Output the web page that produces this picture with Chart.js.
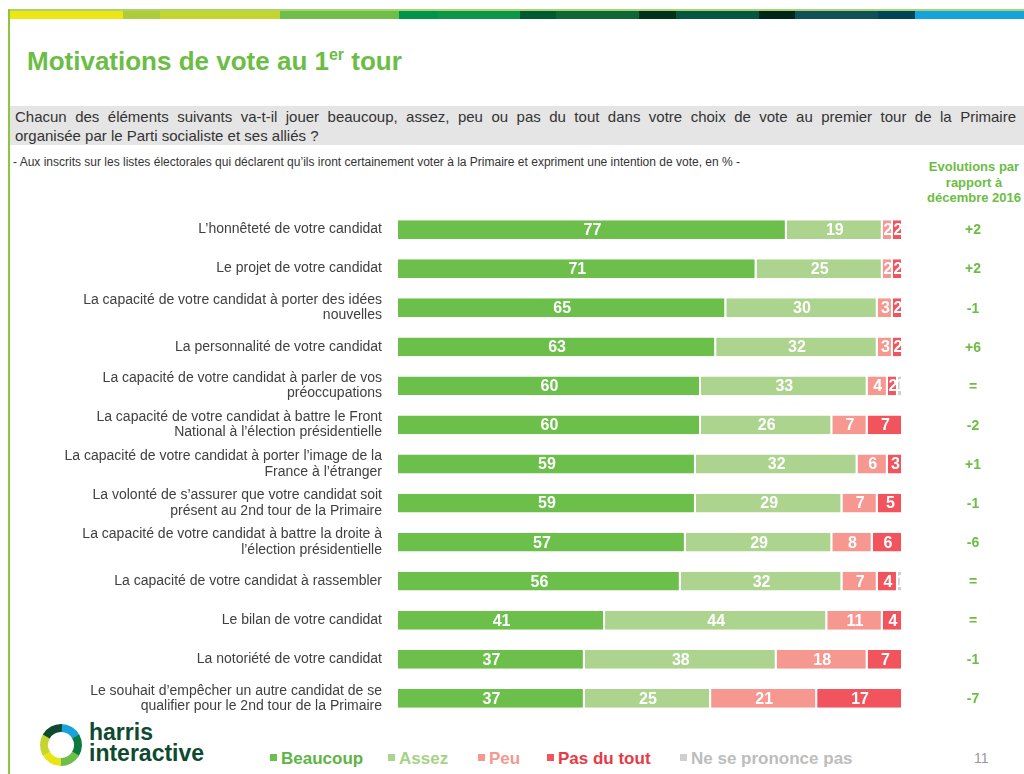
<!DOCTYPE html>
<html>
<head>
<meta charset="utf-8">
<script src="https://cdn.jsdelivr.net/npm/chart.js@4"></script>
<style>
  body { margin: 0; width: 1024px; height: 774px; position: relative; overflow: hidden; background: #fff; font-family: "Liberation Sans", Arial, sans-serif; }
  .band { position: absolute; top: 11px; height: 8px; }
  #topline { position: absolute; left: 8px; right: 0; top: 9px; height: 2px; background: #a8d46f; }
  #leftline { position: absolute; left: 8px; top: 9px; width: 2px; bottom: 0; background: #8cc63f; }
  h1 { position: absolute; left: 27px; top: 46px; margin: 0; font-size: 26px; font-weight: bold; color: #6cbd45; }
  h1 sup { font-size: 16px; vertical-align: 10px; line-height: 0; }
  #question { position: absolute; left: 10px; right: 0; top: 106px; height: 39px; background: #e5e5e5; color: #333; font-size: 15px; line-height: 19px; padding: 1px 8px 0 5px; box-sizing: border-box; }
  #question .l1 { text-align: justify; text-align-last: justify; }
  #base { position: absolute; left: 13px; top: 155px; font-size: 12px; color: #333; }
  #evo { position: absolute; left: 924px; width: 100px; top: 159px; font-size: 13px; line-height: 15.5px; font-weight: bold; color: #6cbd45; text-align: center; }
  #wrap { position: absolute; left: 0; top: 210px; width: 1024px; height: 508px; }
  #legend { position: absolute; top: 749px; left: 268px; font-size: 17px; font-weight: bold; white-space: nowrap; }
  #legend span { position: absolute; top: 0; }
  #legend i { display: inline-block; width: 7px; height: 7px; margin-right: 4px; vertical-align: 3px; }
  #page { position: absolute; left: 974px; top: 750px; font-size: 14px; color: #999; }
  #logo { position: absolute; left: 38px; top: 722px; }
  #logotext { position: absolute; left: 89px; top: 722px; font-size: 23px; line-height: 21px; font-weight: bold; color: #0d4a2f; }
</style>
</head>
<body>
<div id="topline"></div>
<div id="leftline"></div>
<div id="bands"></div>
<h1>Motivations de vote au 1<sup>er</sup> tour</h1>
<div id="question"><div class="l1">Chacun des éléments suivants va-t-il jouer beaucoup, assez, peu ou pas du tout dans votre choix de vote au premier tour de la Primaire</div><div>organisée par le Parti socialiste et ses alliés ?</div></div>
<div id="base">- Aux inscrits sur les listes électorales qui déclarent qu’ils iront certainement voter à la Primaire et expriment une intention de vote, en % -</div>
<div id="evo">Evolutions par<br>rapport à<br>décembre 2016</div>
<div id="wrap"><canvas id="myChart"></canvas></div>
<canvas id="logo" width="46" height="46"></canvas>
<div id="logotext">harris<br>interactive</div>
<div id="legend"></div>
<div id="page">11</div>
<script>
const categories = [
  "L’honnêteté de votre candidat",
  "Le projet de votre candidat",
  ["La capacité de votre candidat à porter des idées", "nouvelles"],
  "La personnalité de votre candidat",
  ["La capacité de votre candidat à parler de vos", "préoccupations"],
  ["La capacité de votre candidat à battre le Front", "National à l’élection présidentielle"],
  ["La capacité de votre candidat à porter l’image de la", "France à l’étranger"],
  ["La volonté de s’assurer que votre candidat soit", "présent au 2nd tour de la Primaire"],
  ["La capacité de votre candidat à battre la droite à", "l’élection présidentielle"],
  "La capacité de votre candidat à rassembler",
  "Le bilan de votre candidat",
  "La notoriété de votre candidat",
  ["Le souhait d’empêcher un autre candidat de se", "qualifier pour le 2nd tour de la Primaire"]
];
const beaucoup = [77, 71, 65, 63, 60, 60, 59, 59, 57, 56, 41, 37, 37];
const assez    = [19, 25, 30, 32, 33, 26, 32, 29, 29, 32, 44, 38, 25];
const peu      = [2, 2, 3, 3, 4, 7, 6, 7, 8, 7, 11, 18, 21];
const pasDuTout = [2, 2, 2, 2, 2, 7, 3, 5, 6, 4, 4, 7, 17];
const nsp      = [0, 0, 0, 0, 1, 0, 0, 0, 0, 1, 0, 0, 0];
const evolutions = ["+2", "+2", "-1", "+6", "=", "-2", "+1", "-1", "-6", "=", "=", "-1", "-7"];

const seriesNames = ["Beaucoup", "Assez", "Peu", "Pas du tout", "Ne se prononce pas"];
const seriesColors = ["#6cbf4b", "#acd48e", "#f69890", "#f1545c", "#cfcfcf"];
const legendText = ["#5cb545", "#a5d286", "#f69890", "#e83a44", "#bdbdbd"];
const legendX = [2, 120, 210, 279, 412];

// header colour band
const bands = [
  [10, 123, "#ede614"], [123, 160, "#aecb3a"], [160, 280, "#c3d630"], [280, 399, "#6fbe4a"],
  [399, 437, "#00944a"], [437, 520, "#0c9648"], [520, 556, "#005a32"], [556, 639, "#0e6836"],
  [639, 676, "#00331a"], [676, 759, "#055641"], [759, 795, "#00261a"], [795, 878, "#114f59"],
  [878, 915, "#004459"], [915, 1024, "#15a3df"]
];
const bandsEl = document.getElementById('bands');
bands.forEach(b => {
  const d = document.createElement('div');
  d.className = 'band';
  d.style.left = b[0] + 'px';
  d.style.width = (b[1] - b[0]) + 'px';
  d.style.background = b[2];
  bandsEl.appendChild(d);
});

// legend
const legendEl = document.getElementById('legend');
seriesNames.forEach((n, i) => {
  const s = document.createElement('span');
  s.style.left = legendX[i] + 'px';
  s.style.color = legendText[i];
  s.innerHTML = '<i style="background:' + seriesColors[i] + '"></i>' + n;
  legendEl.appendChild(s);
});

// logo ring
const lg = document.getElementById('logo').getContext('2d');
const ringCols = ["#1aa2dc", "#0c7a3e", "#6cbf4b", "#e8e41a", "#c3d630", "#0d4a2f"];
ringCols.forEach((c, i) => {
  lg.beginPath();
  lg.strokeStyle = c;
  lg.lineWidth = 8;
  const a0 = -Math.PI / 2 + i * Math.PI / 3;
  lg.arc(23, 23, 17, a0, a0 + Math.PI / 3 + 0.05);
  lg.stroke();
});

const valueLabels = {
  id: 'valueLabels',
  afterDatasetsDraw(chart) {
    const ctx = chart.ctx;
    ctx.save();
    ctx.font = 'bold 16px "Liberation Sans", Arial, sans-serif';
    ctx.fillStyle = '#fff';
    ctx.textAlign = 'center';
    ctx.textBaseline = 'middle';
    chart.data.datasets.forEach((ds, di) => {
      chart.getDatasetMeta(di).data.forEach((bar, i) => {
        const v = ds.data[i];
        if (!v) return;
        const left = bar.base, right = bar.x;
        ctx.save();
        ctx.beginPath();
        ctx.rect(left, bar.y - bar.height / 2, right - left, bar.height);
        ctx.clip();
        ctx.fillText(String(v), (left + right) / 2, bar.y + 1);
        ctx.restore();
      });
    });
    // evolutions column
    ctx.fillStyle = '#6cbd45';
    ctx.font = 'bold 14px "Liberation Sans", Arial, sans-serif';
    const yScale = chart.scales.y;
    evolutions.forEach((e, i) => {
      ctx.fillText(e, 973, yScale.getPixelForValue(i) + 1);
    });
    ctx.restore();
  }
};

const ctx = document.getElementById('myChart').getContext('2d');
new Chart(ctx, {
  type: 'bar',
  data: {
    labels: categories,
    datasets: [beaucoup, assez, peu, pasDuTout, nsp].map((d, i) => ({
      label: seriesNames[i],
      data: d,
      backgroundColor: seriesColors[i],
      borderColor: '#ffffff',
      borderWidth: { right: 2, left: 0, top: 0, bottom: 0 },
      borderSkipped: false,
      barPercentage: 0.98,
      categoryPercentage: 0.49
    }))
  },
  plugins: [valueLabels],
  options: {
    indexAxis: 'y',
    responsive: true,
    maintainAspectRatio: false,
    animation: false,
    layout: { padding: { left: 0, right: 121, top: 0, bottom: 0 } },
    plugins: { legend: { display: false }, tooltip: { enabled: false } },
    scales: {
      x: {
        stacked: true,
        min: 0,
        max: 100,
        display: false
      },
      y: {
        stacked: true,
        grid: { display: false },
        border: { display: false },
        afterFit(scale) {
          scale.width = 398;
          scale.paddingTop = 0;
          scale.paddingBottom = 0;
        },
        ticks: {
          color: '#404040',
          padding: 8,
          font: { family: '"Liberation Sans", Arial, sans-serif', size: 14, lineHeight: 1.1 }
        }
      }
    }
  }
});
</script>
</body>
</html>
